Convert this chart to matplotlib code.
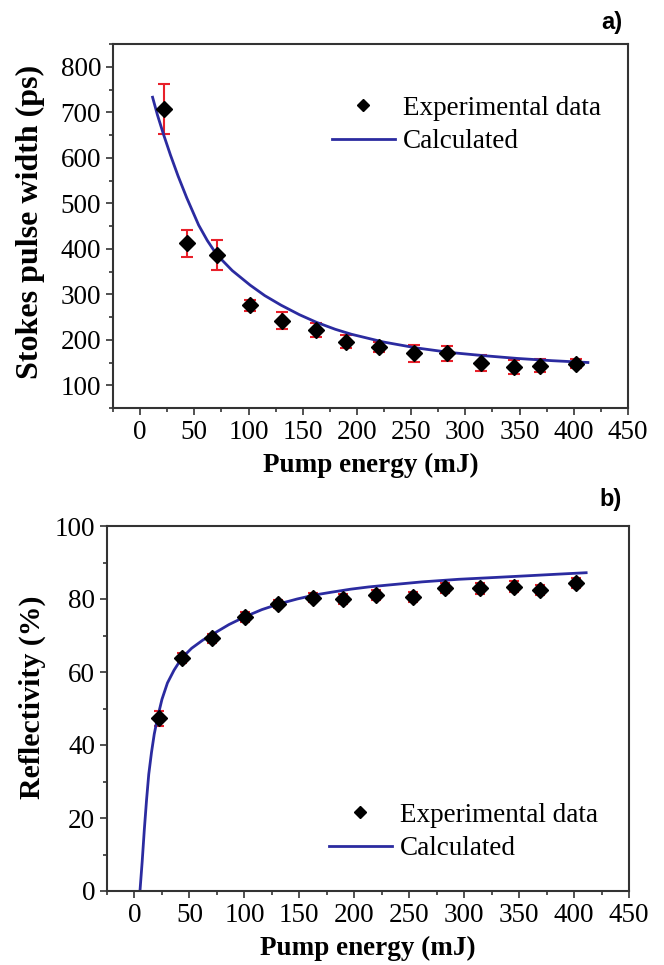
import matplotlib
matplotlib.use("Agg")
import matplotlib.pyplot as plt
from matplotlib.ticker import MultipleLocator

# ---- data ----
energy = [22, 43, 71, 101, 131, 162, 190, 220, 253, 283, 314, 345, 369, 402]
width_ps = [707, 412, 386, 276, 242, 222, 196, 185, 170, 170, 149, 140, 143, 147]
width_err = [54, 30, 33, 12, 18, 15, 14, 11, 19, 17, 17, 15, 14, 10]

calc_w_x = [11.5, 16, 21.5, 28, 35, 43, 54, 62, 70.7, 85, 101.5, 115, 130, 147, 163,
            180, 195, 224.5, 255, 286, 317, 347.5, 380, 413]
calc_w_y = [733, 694, 652, 606, 560, 512, 452, 418, 387, 352, 320, 297, 276, 255, 238,
            223, 212, 195, 182, 172, 165, 159, 154, 150]

reflect = [47.3, 63.9, 69.2, 75.0, 78.6, 80.4, 80.0, 81.1, 80.6, 83.0, 82.9, 83.4, 82.5, 84.3]
reflect_err = [2.0, 1.4, 1.2, 1.4, 1.2, 1.3, 1.3, 1.3, 1.3, 1.4, 1.4, 1.4, 1.4, 1.4]

calc_r_x = [5, 7, 9, 11, 13, 15.5, 18, 21, 25, 30, 36, 43, 52, 62, 72, 86, 101, 116, 132,
            148, 164, 180, 197, 213, 230, 262, 295, 328, 360, 385, 411]
calc_r_y = [0, 8, 17, 25, 32, 38, 43, 47.5, 52.5, 57, 60.5, 63.8, 66.5, 68.7, 70.5, 73,
            75.2, 77.1, 78.7, 80, 81.1, 81.9, 82.7, 83.3, 83.8, 84.7, 85.4, 85.9, 86.4, 86.8, 87.2]

xticks = [0, 50, 100, 150, 200, 250, 300, 350, 400, 450]

SERIF = ["Liberation Serif", "DejaVu Serif"]
FS = 19.5
LINE_C = "#2b2ba0"
SPINE_C = "#333333"

plt.rcParams["font.family"] = SERIF

W, H = 664, 965
fig = plt.figure(figsize=(W / 100, H / 100), dpi=100)


def ax_rect(l, r, t, b):
    return [l / W, 1 - b / H, (r - l) / W, (b - t) / H]


ax1 = fig.add_axes(ax_rect(113, 628, 44, 408))
ax2 = fig.add_axes(ax_rect(107, 629, 526, 891))


def style(ax):
    for s in ax.spines.values():
        s.set_linewidth(1.5)
        s.set_color(SPINE_C)
    ax.tick_params(which="both", direction="out", top=False, right=False,
                   labelsize=FS, color=SPINE_C, width=1.2)
    ax.tick_params(which="major", length=5)
    ax.tick_params(which="minor", length=3)
    ax.set_xlim(-25, 450)
    ax.set_xticks(xticks)
    ax.xaxis.set_minor_locator(MultipleLocator(25))
    ax.set_xlabel("Pump energy (mJ)", fontsize=FS, fontweight="bold", labelpad=6)


def add_legend(ax, x_px, y_px):
    h, l = ax.get_legend_handles_labels()
    ax.legend(h, l, loc="center left", bbox_to_anchor=(x_px / W, 1 - y_px / H),
              bbox_transform=fig.transFigure, frameon=False, fontsize=FS,
              handlelength=2.32, handletextpad=0.3, labelspacing=0.3,
              borderpad=0, borderaxespad=0, markerscale=0.75)


# ---- panel a ----
ax = ax1
ax.errorbar(energy, width_ps, yerr=width_err, fmt="none", ecolor="#e8202a",
            elinewidth=1.5, capsize=4, capthick=1.5, zorder=2)
ax.plot(energy, width_ps, linestyle="none", marker="D", markersize=8,
        color="black", label="Experimental data", zorder=3)
ax.plot(calc_w_x, calc_w_y, color=LINE_C, linewidth=2, label="Calculated", zorder=2.5)
ax.set_ylim(50, 850)
ax.set_yticks([100, 200, 300, 400, 500, 600, 700, 800])
ax.yaxis.set_minor_locator(MultipleLocator(50))
style(ax)
ax.set_ylabel("Stokes pulse width (ps)", fontsize=23, fontweight="bold")
ax.yaxis.set_label_coords((45 - 113) / 515, 0.51)
add_legend(ax, 332, 125)

# ---- panel b ----
ax = ax2
ax.errorbar(energy, reflect, yerr=reflect_err, fmt="none", ecolor="#e8202a",
            elinewidth=1.5, capsize=3.5, capthick=1.5, zorder=2)
ax.plot(energy, reflect, linestyle="none", marker="D", markersize=8,
        color="black", label="Experimental data", zorder=3)
ax.plot(calc_r_x, calc_r_y, color=LINE_C, linewidth=2, label="Calculated", zorder=2.5)
ax.set_ylim(0, 100)
ax.set_yticks([0, 20, 40, 60, 80, 100])
ax.yaxis.set_minor_locator(MultipleLocator(10))
style(ax)
ax.set_ylabel("Reflectivity (%)", fontsize=21.5, fontweight="bold")
ax.yaxis.set_label_coords((46 - 107) / 522, 0.53)
add_legend(ax, 329, 832)

# panel labels
fig.text(622 / W, 1 - 22 / H, "a)", fontsize=17, fontweight="bold",
         family=["Liberation Sans", "DejaVu Sans"], ha="right", va="center")
fig.text(622 / W, 1 - 500 / H, "b)", fontsize=17, fontweight="bold",
         family=["Liberation Sans", "DejaVu Sans"], ha="right", va="center")

fig.savefig("out.png", dpi=100)
